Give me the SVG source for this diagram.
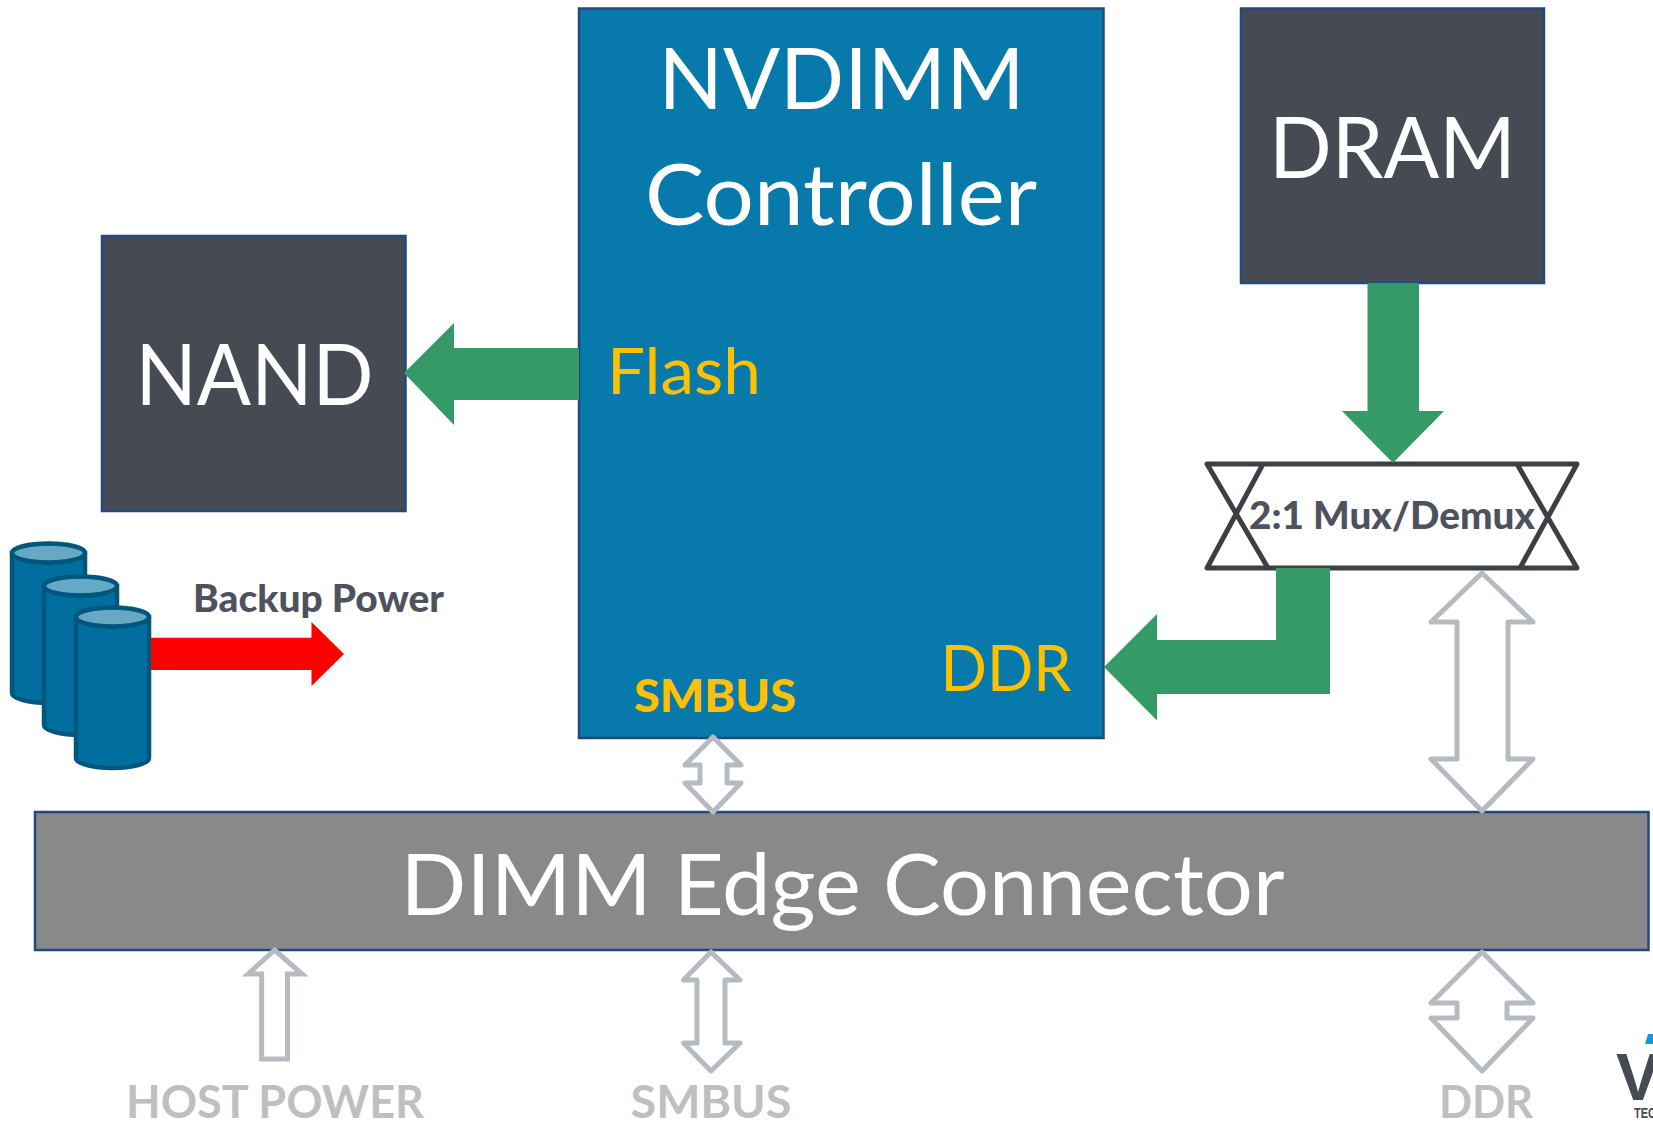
<svg xmlns="http://www.w3.org/2000/svg" width="1653" height="1121" viewBox="0 0 1653 1121">
<style>
text{font-family:Lato,"Liberation Sans",sans-serif;text-anchor:middle}
.box{stroke:#23497c;stroke-width:2.500}
.dark{fill:#464a53}
.w{fill:#fff}
.au{fill:#ffc000}
.g{fill:#349b66}
.dbl{fill:#fff;stroke:#b6bbc2;stroke-width:5;stroke-linejoin:round}
.cyl{fill:#006f9f;stroke:#00567c;stroke-width:4.5}
.top{fill:#66a9c6;stroke:#00567c;stroke-width:4.5}
.lab{fill:#bfbfbf;font-weight:700;font-size:46px}
.logo{fill:#464a53;font-weight:700;font-family:"Liberation Sans",sans-serif;text-anchor:start}
</style>
<rect width="1653" height="1121" fill="#fff"/>
<g id="nand"><rect class="box dark" x="102" y="236" width="303.500" height="275"/><text class="w" x="254.500" y="405" font-size="85" textLength="238" lengthAdjust="spacingAndGlyphs">NAND</text></g>
<g id="controller"><rect class="box" fill="#077aab" x="579" y="8.500" width="524.500" height="729.500"/>
<text class="w" x="841.500" y="109" font-size="85" textLength="366" lengthAdjust="spacingAndGlyphs">NVDIMM</text>
<text class="w" x="841" y="225" font-size="85" textLength="392" lengthAdjust="spacingAndGlyphs">Controller</text>
<text class="au" x="684" y="394" font-size="64" textLength="154" lengthAdjust="spacingAndGlyphs">Flash</text>
<text class="au" x="1006" y="691" font-size="64" textLength="131" lengthAdjust="spacingAndGlyphs">DDR</text>
<text class="au" x="715" y="712" font-size="46" font-weight="900" textLength="162" lengthAdjust="spacingAndGlyphs">SMBUS</text></g>
<g id="dram"><rect class="box dark" x="1241" y="8.500" width="303" height="274.500"/><text class="w" x="1392.500" y="178" font-size="85" textLength="247" lengthAdjust="spacingAndGlyphs">DRAM</text></g>
<g id="mux">
<polygon points="1263,464 1517,464 1547,515 1520,568 1268,568 1236,515" fill="#fff"/>
<path d="M1207 464H1577L1520 568M1263 464L1207 568H1577L1517 464M1207 464L1268 568" fill="none" stroke="#3c3f44" stroke-width="5" stroke-linejoin="round" stroke-linecap="round"/>
<text fill="#4d525c" x="1392" y="529" font-size="37" font-weight="900" textLength="286" lengthAdjust="spacingAndGlyphs">2:1 Mux/Demux</text></g>
<g id="edge-connector"><rect class="box" fill="#898989" x="35" y="812" width="1613.500" height="138"/><text class="w" x="842.500" y="915" font-size="85" textLength="884" lengthAdjust="spacingAndGlyphs">DIMM Edge Connector</text></g>
<g id="battery">
<path class="cyl" d="M12 553V693A36.500 10 0 0 0 85 693V553Z"/><ellipse class="top" cx="48.500" cy="553" rx="36.500" ry="9.500"/>
<path class="cyl" d="M44 586V725A36.500 10 0 0 0 117 725V586Z"/><ellipse class="top" cx="80.500" cy="586" rx="36.500" ry="9.500"/>
<path class="cyl" d="M76 617V758A36.500 10 0 0 0 149 758V617Z"/><ellipse class="top" cx="112.500" cy="617" rx="36.500" ry="9.500"/>
<text fill="#4d525c" x="318.500" y="612" font-size="37" font-weight="900" textLength="251" lengthAdjust="spacingAndGlyphs">Backup Power</text></g>
<g id="connectors">
<polygon class="g" points="579,348 454,348 454,323 404,373 454,425 454,400 579,400"/>
<polygon class="g" points="1367.500,283 1419,283 1419,411 1444,411 1393,463 1342,411 1367.500,411"/>
<polygon class="g" points="1276,568 1330,568 1330,694 1157,694 1157,720.500 1104,667 1157,614 1157,640 1276,640"/>
<polygon fill="#f00" points="151,637.700 311.500,637.700 311.500,622 344,654 311.500,686 311.500,670 151,670"/>
<polygon class="dbl" points="713,737 741,765 727,765 727,783 741,783 713,812 685,783 700,783 700,765 685,765"/>
<polygon class="dbl" points="1482,573 1533,622 1508,622 1508,759 1533,759 1482,811 1431,759 1457,759 1457,622 1431,622"/>
<polygon class="dbl" style="stroke-linejoin:miter" points="274.500,950 302,974 287.500,974 287.500,1059 261.600,1059 261.600,974 248,974"/>
<polygon class="dbl" points="711,952 740,980 725,980 725,1043 740,1043 711,1071 683.500,1043 697,1043 697,980 683.500,980"/>
<polygon class="dbl" points="1482,952 1533,1003 1507,1003 1507,1018 1533,1018 1482,1071 1431,1018 1457,1018 1457,1003 1431,1003"/>
</g>
<g id="labels">
<text class="lab" x="275" y="1118" textLength="298" lengthAdjust="spacingAndGlyphs">HOST POWER</text>
<text class="lab" x="711" y="1118" textLength="161" lengthAdjust="spacingAndGlyphs">SMBUS</text>
<text class="lab" x="1486" y="1118" textLength="94" lengthAdjust="spacingAndGlyphs">DDR</text>
</g>
<g id="logo">
<polygon fill="#149bd7" points="1648,1034 1653,1034 1653,1044 1645,1044"/>
<text class="logo" x="1616" y="1100" font-size="66">V</text>
<text class="logo" x="1634" y="1118" font-size="14" textLength="22" lengthAdjust="spacingAndGlyphs">TEC</text>
</g>
</svg>
